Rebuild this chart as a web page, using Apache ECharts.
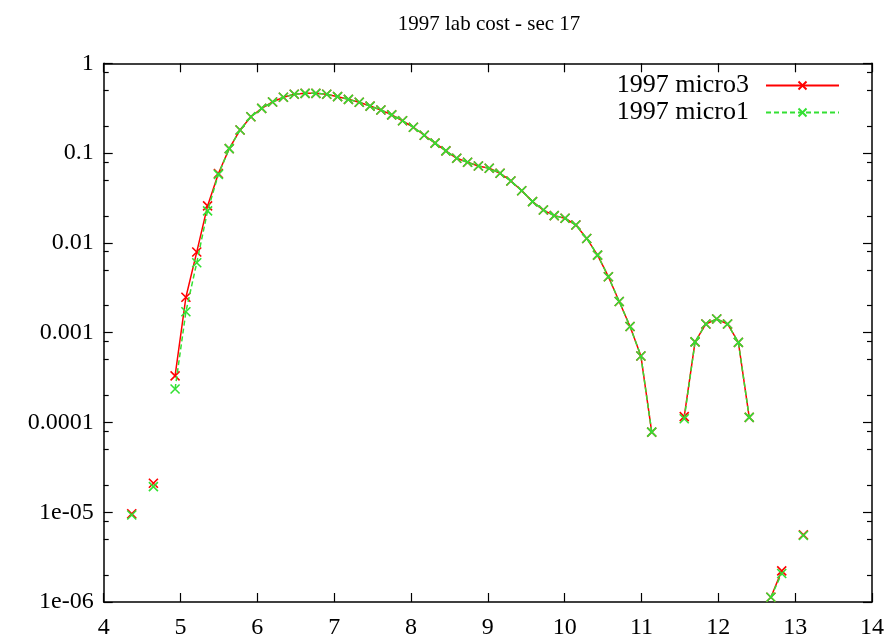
<!DOCTYPE html>
<html>
<head>
<meta charset="utf-8">
<script src="https://cdn.jsdelivr.net/npm/echarts@6/dist/echarts.min.js"></script>
<style>
html,body{margin:0;padding:0;background:#fff;}
#chart{width:892px;height:644px;}
</style>
</head>
<body>
<div id="chart"></div>
<script>
// ---- data ----
var titleText = '1997 lab cost - sec 17';
var seriesNames = ['1997 micro3', '1997 micro1'];
var xValues = [4.365, 4.506, 4.647, 4.788, 4.929, 5.070, 5.211, 5.352, 5.493, 5.634,
  5.775, 5.916, 6.057, 6.198, 6.339, 6.480, 6.621, 6.762, 6.903, 7.044,
  7.185, 7.326, 7.467, 7.608, 7.749, 7.890, 8.031, 8.172, 8.313, 8.454,
  8.595, 8.736, 8.877, 9.018, 9.159, 9.300, 9.441, 9.582, 9.723, 9.864,
  10.005, 10.146, 10.287, 10.428, 10.569, 10.710, 10.851, 10.992, 11.133, 11.274,
  11.415, 11.556, 11.697, 11.838, 11.979, 12.120, 12.261, 12.402, 12.543, 12.684,
  12.825, 12.966, 13.107];
var micro3 = [9.6e-6, null, 2.10e-5, null, 3.3e-4, 2.48e-3, 7.9e-3, 0.0258, 0.0593, 0.112,
  0.181, 0.254, 0.315, 0.371, 0.419, 0.452, 0.463, 0.463, 0.452, 0.425,
  0.397, 0.368, 0.334, 0.302, 0.266, 0.229, 0.194, 0.158, 0.129, 0.106,
  0.0875, 0.079, 0.0718, 0.0677, 0.0596, 0.0489, 0.0381, 0.0288, 0.0232, 0.0201,
  0.0188, 0.0158, 0.0112, 7.3e-3, 4.2e-3, 2.22e-3, 1.17e-3, 5.5e-4, 7.8e-5, null,
  null, 1.16e-4, 7.9e-4, 1.25e-3, 1.42e-3, 1.25e-3, 7.8e-4, 1.14e-4, null, 1.13e-6,
  2.22e-6, null, 5.6e-6];
var micro1 = [9.3e-6, null, 1.93e-5, null, 2.36e-4, 1.71e-3, 6.0e-3, 0.0227, 0.058, 0.112,
  0.181, 0.254, 0.315, 0.371, 0.419, 0.452, 0.463, 0.463, 0.452, 0.425,
  0.397, 0.368, 0.334, 0.302, 0.266, 0.229, 0.194, 0.158, 0.129, 0.106,
  0.0875, 0.079, 0.0718, 0.0677, 0.0596, 0.0489, 0.0381, 0.0288, 0.0232, 0.0201,
  0.0188, 0.0158, 0.0112, 7.3e-3, 4.2e-3, 2.22e-3, 1.17e-3, 5.5e-4, 7.8e-5, null,
  null, 1.10e-4, 7.9e-4, 1.25e-3, 1.42e-3, 1.25e-3, 7.8e-4, 1.14e-4, null, 1.13e-6,
  2.08e-6, null, 5.5e-6];
var xTicks = [4, 5, 6, 7, 8, 9, 10, 11, 12, 13, 14];
var yTickValues = [1e-6, 1e-5, 1e-4, 1e-3, 0.01, 0.1, 1];
var yTickLabels = ['1e-06', '1e-05', '0.0001', '0.001', '0.01', '0.1', '1'];
var yMinorValues = [2e-6, 5e-6, 8e-6, 2e-5, 5e-5, 8e-5, 2e-4, 5e-4, 8e-4, 2e-3, 5e-3, 8e-3,
  0.02, 0.05, 0.08, 0.2, 0.5, 0.8];

// ---- chart ----
var FONT = '"Liberation Serif", "DejaVu Serif", serif';
var RED = '#ff0000';
var GREEN = '#33e033';
var XSYM = 'path://M0,0L10,10M10,0L0,10';

function pairs(arr) {
  return xValues.map(function (x, i) {
    return [x, arr[i] == null ? '-' : arr[i]];
  });
}
function yLabel(v) {
  var best = 0, bd = Infinity;
  for (var i = 0; i < yTickValues.length; i++) {
    var d = Math.abs(Math.log10(v) - Math.log10(yTickValues[i]));
    if (d < bd) { bd = d; best = i; }
  }
  return yTickLabels[best];
}

var axisLine = { show: true, lineStyle: { color: '#000', width: 1.5 } };
function yAxisDef(pos, values, len, labels, line) {
  return {
    type: 'log', logBase: 10, min: 1e-6, max: 1, position: pos,
    axisLine: line ? axisLine : { show: false },
    splitLine: { show: false },
    axisTick: { show: true, inside: true, length: len, customValues: values,
      lineStyle: { color: '#000', width: 1.2 } },
    axisLabel: labels ? { show: true, customValues: yTickValues, formatter: yLabel,
      fontFamily: FONT, fontSize: 24, color: '#000', margin: 10 } : { show: false }
  };
}
function xAxisDef(pos, labels) {
  return {
    type: 'value', min: 4, max: 14, interval: 1, position: pos,
    axisLine: axisLine, splitLine: { show: false },
    axisTick: { show: true, inside: true, length: 9, customValues: xTicks,
      lineStyle: { color: '#000', width: 1.2 } },
    axisLabel: labels ? { show: true, customValues: xTicks, fontFamily: FONT, fontSize: 24,
      color: '#000', margin: 14 } : { show: false }
  };
}

var chart = echarts.init(document.getElementById('chart'), null, { renderer: 'canvas' });
chart.setOption({
  animation: false,
  backgroundColor: '#fff',
  title: {
    text: titleText, left: 484, top: 9, textAlign: 'center',
    textStyle: { fontFamily: FONT, fontSize: 21, fontWeight: 'normal', color: '#000' }
  },
  legend: {
    orient: 'vertical', right: 47, top: 67, align: 'right', itemGap: 0,
    itemWidth: 73, itemHeight: 10,
    textStyle: { fontFamily: FONT, fontSize: 26, color: '#000', padding: [0, 12, 0, 0], lineHeight: 27 },
    data: seriesNames
  },
  grid: { left: 103.7, right: 20, top: 63.3, bottom: 42, containLabel: false },
  xAxis: [xAxisDef('bottom', true), xAxisDef('top', false)],
  yAxis: [
    yAxisDef('left', yTickValues, 9, true, true),
    yAxisDef('right', yTickValues, 9, false, true),
    yAxisDef('left', yMinorValues, 5, false, false),
    yAxisDef('right', yMinorValues, 5, false, false)
  ],
  series: [
    {
      name: seriesNames[0], type: 'line', data: pairs(micro3), connectNulls: false,
      symbol: XSYM, symbolSize: 9, showSymbol: true,
      lineStyle: { color: RED, width: 1.5 },
      itemStyle: { color: RED, borderColor: RED, borderWidth: 1.6 },
      emphasis: { disabled: true }, z: 2
    },
    {
      name: seriesNames[1], type: 'line', data: pairs(micro1), connectNulls: false,
      symbol: XSYM, symbolSize: 9, showSymbol: true,
      lineStyle: { color: GREEN, width: 1.5, type: [5, 3] },
      itemStyle: { color: GREEN, borderColor: GREEN, borderWidth: 1.6 },
      emphasis: { disabled: true }, z: 3
    }
  ]
});
</script>
</body>
</html>
